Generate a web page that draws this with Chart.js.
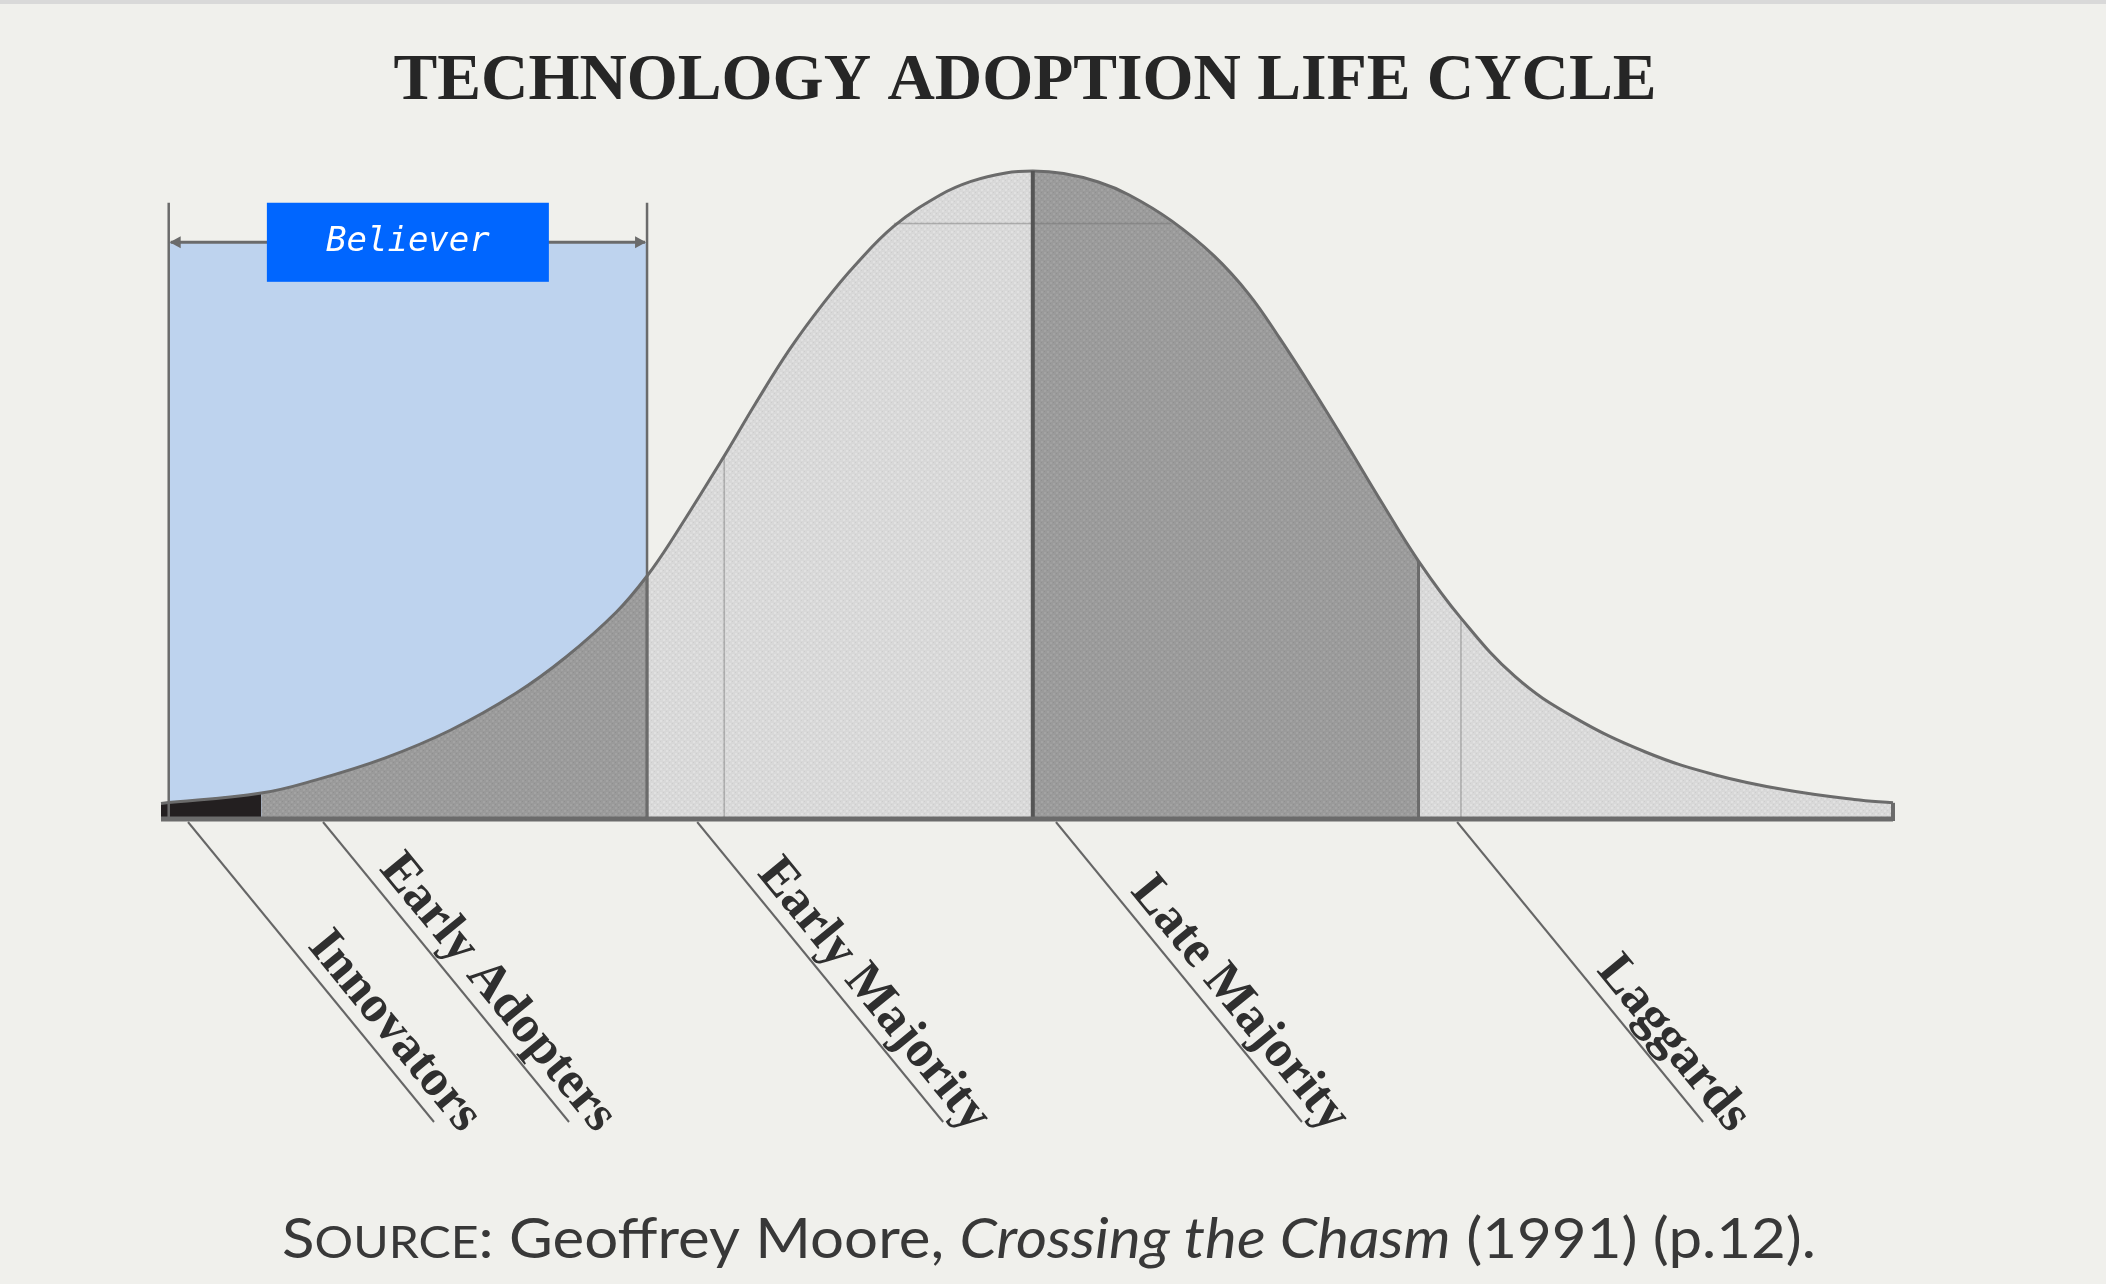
<!DOCTYPE html>
<html>
<head>
<meta charset="utf-8">
<title>Technology Adoption Life Cycle</title>
<script src="https://cdn.jsdelivr.net/npm/chart.js@4.4.0/dist/chart.umd.min.js"></script>
<style>
  html, body { margin: 0; padding: 0; background: #f0f0ec; }
  #wrap { position: relative; width: 2106px; height: 1284px; }
  canvas { display: block; }
</style>
</head>
<body>
<div id="wrap"><canvas id="lifeCycle" width="2106" height="1284"></canvas></div>
<script>
// bell curve: x in adoption units (0 = mean), y in % of the peak
const curveX = [-2.26, -2.0, -1.86, -1.68, -1.51, -1.34, -1.21, -1.08, -1.0, -0.93, -0.8, -0.72, -0.63, -0.54, -0.46, -0.36, -0.24, -0.16, -0.07, 0,
                0.08, 0.17, 0.25, 0.36, 0.47, 0.56, 0.64, 0.73, 0.82, 0.9, 1.0, 1.11, 1.25, 1.40, 1.59, 1.77, 1.95, 2.13, 2.23];
const curveY = [2.4, 4.0, 6.0, 9.4, 13.7, 19.4, 25.0, 31.9, 37.5, 43.6, 56.0, 64.0, 72.5, 79.8, 85.5, 91.5, 96.3, 98.4, 99.7, 100,
                99.6, 98.3, 96.3, 92.3, 86.9, 81.0, 74.2, 65.9, 57.2, 49.3, 39.8, 31.0, 22.0, 15.8, 10.3, 6.8, 4.5, 3.0, 2.5];

// the five groups and where they start / stop on the x axis
const groupNames = ['Innovators', 'Early Adopters', 'Early Majority', 'Late Majority', 'Laggards'];
const groupEdges = [-2.26, -2, -1, 0, 1, 2.23];
// where each leader line leaves the base line
const labelAnchors = [-2.19, -1.84, -0.87, 0.06, 1.10];

// the "Believer" overlay
const believerText = 'Believer';
const believerRange = [-2.24, -1];
const believerTop = 95.1;
const believerArrow = 89.0;

// thin construction lines inside the curve
const faintLinesX = [-0.8, 1.11];
const faintLineY = 91.9;
const faintLineRange = [-0.36, 0.36];

const titleText = 'TECHNOLOGY ADOPTION LIFE CYCLE';

// dotted fill like the scanned print
function makePattern(base, light, dark) {
  const tile = document.createElement('canvas');
  tile.width = 6;
  tile.height = 6;
  const c = tile.getContext('2d');
  c.fillStyle = base;
  c.fillRect(0, 0, 6, 6);
  c.fillStyle = light;
  c.fillRect(0, 0, 2, 2);
  c.fillRect(3, 3, 2, 2);
  c.fillStyle = dark;
  c.fillRect(3, 0, 1, 1);
  c.fillRect(0, 3, 1, 1);
  return c.createPattern(tile, 'repeat');
}
const darkFill = makePattern('#9a9a9a', '#a3a3a3', '#909090');
const lightFill = makePattern('#d8d8d8', '#e1e1e1', '#cdcdcd');
const groupFills = ['#231f20', darkFill, lightFill, darkFill, lightFill];

const points = curveX.map((x, i) => ({ x: x, y: curveY[i] }));

const outlineSet = {
  label: 'curve',
  data: points,
  borderColor: '#6b6b6b',
  borderWidth: 3,
  fill: false,
  pointRadius: 0,
  tension: 0.4,
  clip: false
};

const groupSets = groupNames.map((name, g) => ({
  label: name,
  data: points.filter(p => p.x >= groupEdges[g] && p.x <= groupEdges[g + 1]),
  backgroundColor: groupFills[g],
  borderColor: 'transparent',
  borderWidth: 0,
  fill: 'origin',
  pointRadius: 0,
  tension: 0.4,
  clip: false
}));

function yAt(x) {
  return curveY[curveX.indexOf(x)];
}

// page background and the thin grey strip at the top
const backdrop = {
  id: 'backdrop',
  beforeDraw(chart) {
    const ctx = chart.ctx;
    ctx.save();
    ctx.fillStyle = '#f0f0ec';
    ctx.fillRect(0, 0, chart.width, chart.height);
    ctx.fillStyle = '#d9d9d9';
    ctx.fillRect(0, 0, chart.width, 4);
    ctx.restore();
  }
};

// light blue block behind the left tail
const believerBack = {
  id: 'believerBack',
  beforeDatasetsDraw(chart) {
    const ctx = chart.ctx;
    const xs = chart.scales.x, ys = chart.scales.y;
    const x0 = xs.getPixelForValue(believerRange[0]);
    const x1 = xs.getPixelForValue(believerRange[1]);
    const top = ys.getPixelForValue(believerArrow);
    ctx.save();
    ctx.fillStyle = '#bed3ee';
    ctx.fillRect(x0, top, x1 - x0, ys.getPixelForValue(0) - top);
    ctx.restore();
  }
};

const overlay = {
  id: 'overlay',
  afterDatasetsDraw(chart) {
    const ctx = chart.ctx;
    const xs = chart.scales.x, ys = chart.scales.y;
    const base = ys.getPixelForValue(0);
    ctx.save();
    ctx.lineCap = 'butt';

    // faint construction lines
    ctx.strokeStyle = 'rgba(110,110,110,0.45)';
    ctx.lineWidth = 1.5;
    faintLinesX.forEach(v => {
      const px = xs.getPixelForValue(v);
      ctx.beginPath();
      ctx.moveTo(px, ys.getPixelForValue(yAt(v)));
      ctx.lineTo(px, base);
      ctx.stroke();
    });
    ctx.beginPath();
    ctx.moveTo(xs.getPixelForValue(faintLineRange[0]), ys.getPixelForValue(faintLineY));
    ctx.lineTo(xs.getPixelForValue(faintLineRange[1]), ys.getPixelForValue(faintLineY));
    ctx.stroke();

    // group borders
    [groupEdges[2], groupEdges[3], groupEdges[4]].forEach((v, i) => {
      const px = xs.getPixelForValue(v);
      ctx.strokeStyle = i === 1 ? '#555555' : '#6b6b6b';
      ctx.lineWidth = i === 1 ? 4 : 3;
      ctx.beginPath();
      ctx.moveTo(px, ys.getPixelForValue(yAt(v)));
      ctx.lineTo(px, base);
      ctx.stroke();
    });

    // base line with the closed right end
    const left = xs.getPixelForValue(groupEdges[0]);
    const right = xs.getPixelForValue(groupEdges[5]);
    ctx.strokeStyle = '#6b6b6b';
    ctx.lineWidth = 5;
    ctx.beginPath();
    ctx.moveTo(left, base);
    ctx.lineTo(right, base);
    ctx.stroke();
    ctx.lineWidth = 4;
    ctx.beginPath();
    ctx.moveTo(right, ys.getPixelForValue(curveY[curveY.length - 1]));
    ctx.lineTo(right, base + 2);
    ctx.stroke();

    // leader lines and slanted labels
    const dx = 246, dy = 300;
    const len = Math.sqrt(dx * dx + dy * dy);
    const ang = Math.atan2(dy, dx);
    ctx.strokeStyle = '#666666';
    ctx.lineWidth = 2;
    ctx.fillStyle = '#2f2f2f';
    ctx.font = 'bold 52px "Liberation Serif"';
    ctx.textAlign = 'right';
    ctx.textBaseline = 'alphabetic';
    labelAnchors.forEach((v, i) => {
      const sx = xs.getPixelForValue(v);
      const sy = base + 3;
      ctx.beginPath();
      ctx.moveTo(sx, sy);
      ctx.lineTo(sx + dx, sy + dy);
      ctx.stroke();
      const t = 414 / len;
      const off = 13;
      ctx.save();
      ctx.translate(sx + dx * t + Math.sin(ang) * off, sy + dy * t - Math.cos(ang) * off);
      ctx.rotate(ang);
      ctx.fillText(groupNames[i], 0, 0);
      ctx.restore();
    });

    // believer bracket
    const bx0 = xs.getPixelForValue(believerRange[0]);
    const bx1 = xs.getPixelForValue(believerRange[1]);
    const btop = ys.getPixelForValue(believerTop);
    const barrow = ys.getPixelForValue(believerArrow);
    ctx.strokeStyle = '#6b6b6b';
    ctx.lineWidth = 2.5;
    [bx0, bx1].forEach(px => {
      ctx.beginPath();
      ctx.moveTo(px, btop);
      ctx.lineTo(px, base);
      ctx.stroke();
    });
    ctx.lineWidth = 3;
    ctx.beginPath();
    ctx.moveTo(bx0 + 2, barrow);
    ctx.lineTo(bx1 - 2, barrow);
    ctx.stroke();
    ctx.fillStyle = '#6b6b6b';
    [[bx0 + 1, 1], [bx1 - 1, -1]].forEach(([px, dir]) => {
      ctx.beginPath();
      ctx.moveTo(px, barrow);
      ctx.lineTo(px + dir * 11, barrow - 6);
      ctx.lineTo(px + dir * 11, barrow + 6);
      ctx.closePath();
      ctx.fill();
    });
    const boxW = 282, boxH = 2 * (barrow - btop);
    const cx = (bx0 + bx1) / 2;
    ctx.fillStyle = '#0066ff';
    ctx.fillRect(cx - boxW / 2, btop, boxW, boxH);
    ctx.fillStyle = '#ffffff';
    ctx.font = 'italic 34px "DejaVu Sans Mono"';
    ctx.textAlign = 'center';
    ctx.textBaseline = 'middle';
    ctx.fillText(believerText, cx, barrow);
    ctx.restore();
  },
  afterDraw(chart) {
    const ctx = chart.ctx;
    ctx.save();
    // title
    ctx.fillStyle = '#262626';
    ctx.font = 'bold 66px "Liberation Serif"';
    ctx.textBaseline = 'alphabetic';
    ctx.textAlign = 'left';
    const tw = ctx.measureText(titleText).width;
    const tsx = Math.min(1, 1263 / tw);
    ctx.save();
    ctx.translate(1025 - tw * tsx / 2, 99);
    ctx.scale(tsx, 1);
    ctx.fillText(titleText, 0, 0);
    ctx.restore();

    // source line, small caps and italics done by hand
    const parts = [
      { t: 'S', f: '56px Lato' },
      { t: 'OURCE', f: '45px Lato' },
      { t: ': Geoffrey Moore, ', f: '56px Lato' },
      { t: 'Crossing the Chasm', f: 'italic 56px Lato' },
      { t: ' (1991) (p.12).', f: '56px Lato' }
    ];
    let total = 0;
    parts.forEach(p => { ctx.font = p.f; p.w = ctx.measureText(p.t).width; total += p.w; });
    const ssx = 1534 / total;
    ctx.fillStyle = '#383838';
    ctx.translate(282, 1258);
    ctx.scale(ssx, 1);
    let x = 0;
    parts.forEach(p => { ctx.font = p.f; ctx.fillText(p.t, x, 0); x += p.w; });
    ctx.restore();
  }
};

new Chart(document.getElementById('lifeCycle'), {
  type: 'line',
  data: { datasets: [outlineSet].concat(groupSets) },
  options: {
    responsive: false,
    animation: false,
    events: [],
    layout: { padding: { left: 161, right: 213, top: 171, bottom: 465 } },
    scales: {
      x: { type: 'linear', min: groupEdges[0], max: groupEdges[5], display: false },
      y: { min: 0, max: 100, display: false }
    },
    plugins: {
      legend: { display: false },
      tooltip: { enabled: false },
      title: { display: false }
    }
  },
  plugins: [backdrop, believerBack, overlay]
});
</script>
</body>
</html>
